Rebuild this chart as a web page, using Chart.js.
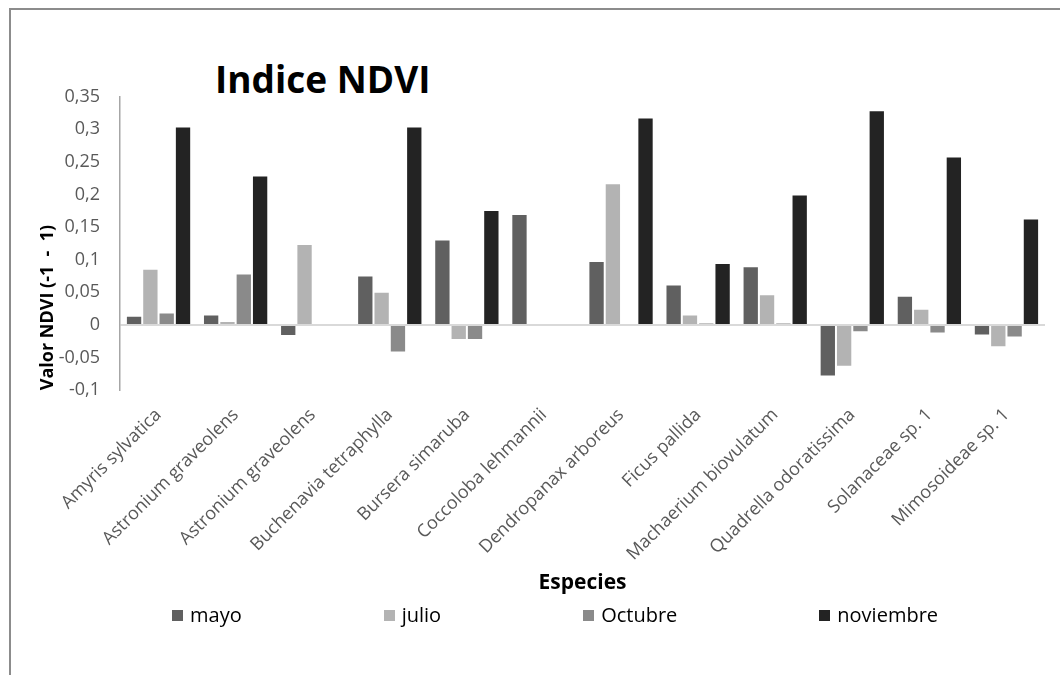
<!DOCTYPE html>
<html><head><meta charset="utf-8">
<script src="https://cdn.jsdelivr.net/npm/chart.js@4"></script>
<style>
html,body{margin:0;padding:0;background:#fff;}
body{width:1060px;height:675px;overflow:hidden;position:relative;font-family:"Open Sans",sans-serif;}
#frame{position:absolute;left:9px;top:8px;width:1200px;height:800px;border-left:2px solid #8c8c8c;border-top:2px solid #8c8c8c;}
#chart{position:absolute;left:0;top:0;}
#title{position:absolute;left:215px;top:60px;font:bold 37px/37px "Open Sans";color:#000;white-space:nowrap;}
#legend{position:absolute;left:172px;top:603px;display:flex;align-items:center;gap:142px;font:20px/24px "Open Sans";color:#000;white-space:nowrap;}
.item{display:flex;align-items:center;}
.box{width:11px;height:11px;margin-right:7px;}
</style></head>
<body>
<div id="frame"></div>
<div id="title">Indice NDVI</div>
<canvas id="chart" width="1060" height="675"></canvas>
<div id="legend"></div>
<script>
const categories = ["Amyris sylvatica","Astronium graveolens","Astronium graveolens","Buchenavia tetraphylla","Bursera simaruba","Coccoloba lehmannii","Dendropanax arboreus","Ficus pallida","Machaerium biovulatum","Quadrella odoratissima","Solanaceae sp. 1","Mimosoideae sp. 1"];
const seriesNames = ["mayo","julio","Octubre","noviembre"];
const mayo      = [0.014, 0.016, -0.017, 0.076, 0.131, 0.170, 0.098, 0.062, 0.090, -0.079, 0.045, -0.016];
const julio     = [0.086, 0.006, 0.124, 0.051, -0.023, null, 0.217, 0.016, 0.047, -0.064, 0.025, -0.034];
const octubre   = [0.019, 0.079, null, -0.042, -0.023, null, null, 0.004, 0.004, -0.011, -0.013, -0.019];
const noviembre = [0.304, 0.229, null, 0.304, 0.176, null, 0.318, 0.095, 0.200, 0.329, 0.258, 0.163];
const yTickLabels = ["-0,1","-0,05","0","0,05","0,1","0,15","0,2","0,25","0,3","0,35"];
const seriesColors = ["#606060","#b3b3b3","#8a8a8a","#232323"];
const seriesValues = [mayo, julio, octubre, noviembre];

const legendEl = document.getElementById('legend');
seriesNames.forEach((n,i)=>{
  const it=document.createElement('div'); it.className='item';
  const b=document.createElement('div'); b.className='box'; b.style.background=seriesColors[i];
  const t=document.createElement('span'); t.textContent=n;
  it.appendChild(b); it.appendChild(t); legendEl.appendChild(it);
});

new Chart(document.getElementById('chart'), {
  type:'bar',
  data:{
    labels:categories,
    datasets:seriesNames.map((n,i)=>({
      label:n, data:seriesValues[i], backgroundColor:seriesColors[i],
      borderColor:'rgba(255,255,255,0.55)', borderWidth:1,
      categoryPercentage:0.847, barPercentage:1
    }))
  },
  options:{
    responsive:false, animation:false,
    layout:{padding:{left:0,right:15,top:96.5,bottom:79.7}},
    plugins:{legend:{display:false}, title:{display:false}, tooltip:{enabled:false}},
    scales:{
      x:{
        grid:{display:false}, border:{display:false},
        ticks:{color:'#595959', font:{family:'Open Sans', size:18}, minRotation:45, maxRotation:45, autoSkip:false, padding:6},
        title:{display:true, text:'Especies', color:'#000', font:{family:'Open Sans', size:21, weight:'bold'}, padding:{top:0,bottom:0}},
        afterFit(s){ s.height = 205; }
      },
      y:{
        min:-0.1, max:0.35,
        ticks:{stepSize:0.05, color:'#595959', font:{family:'Open Sans', size:18}, padding:20,
          callback:(v,i)=>yTickLabels[i]},
        grid:{drawTicks:false, lineWidth:2, z:1,
          color:c=> (c.tick && Math.abs(c.tick.value)<1e-9) ? '#d9d9d9' : 'rgba(0,0,0,0)'},
        border:{display:true, color:'#a6a6a6', width:1.5, z:1},
        title:{display:true, text:'Valor NDVI (-1  -  1)', align:'start', color:'#000',
          font:{family:'Open Sans', size:18, weight:'bold'}, padding:{top:37,bottom:0}},
        afterFit(s){ s.width = 120; }
      }
    }
  }
});
</script>
</body></html>
